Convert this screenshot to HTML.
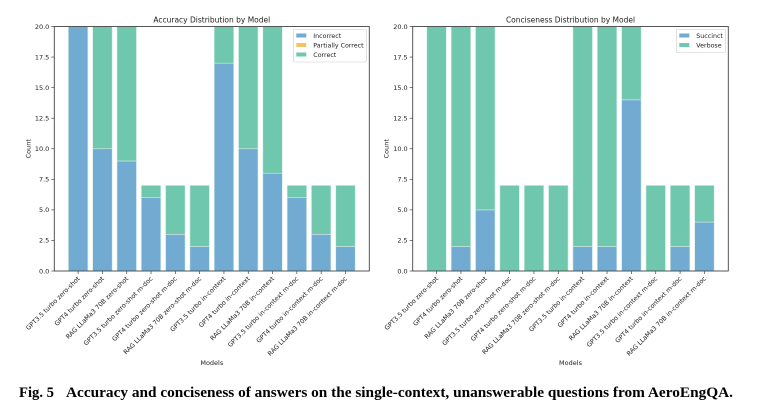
<!DOCTYPE html>
<html><head><meta charset="utf-8"><style>
body{margin:0;background:#fff;}
svg{display:block;font-family:"DejaVu Sans","Liberation Sans",sans-serif;}
</style></head><body>
<svg id="s" width="760" height="419" viewBox="0 0 760 419">
<text x="19" y="397" font-family="Liberation Serif, serif" font-weight="bold" font-size="15" textLength="35" lengthAdjust="spacingAndGlyphs">Fig. 5</text>
<text x="66" y="397" font-family="Liberation Serif, serif" font-weight="bold" font-size="15" textLength="667" lengthAdjust="spacingAndGlyphs">Accuracy and conciseness of answers on the single-context, unanswerable questions from AeroEngQA.</text>
</svg>
<script>
const categories=["GPT3.5 turbo zero-shot","GPT4 turbo zero-shot","RAG LLaMa3 70B zero-shot","GPT3.5 turbo zero-shot m-doc","GPT4 turbo zero-shot m-doc","RAG LLaMa3 70B zero-shot m-doc","GPT3.5 turbo in-context","GPT4 turbo in-context","RAG LLaMa3 70B in-context","GPT3.5 turbo in-context m-doc","GPT4 turbo in-context m-doc","RAG LLaMa3 70B in-context m-doc"];
const incorrect=[20,10,9,6,3,2,17,10,8,6,3,2];
const partial=[0,0,0,0,0,0,0,0,0,0,0,0];
const correct=[0,10,11,1,4,5,3,10,12,1,4,5];
const succinct=[0,2,5,0,0,0,2,2,14,0,2,4];
const verbose=[20,18,15,7,7,7,18,18,6,7,5,3];
const yTicks=[0,2.5,5,7.5,10,12.5,15,17.5,20];
const NS="http://www.w3.org/2000/svg";
const svg=document.getElementById('s');
function mk(tag,attrs,parent){const e=document.createElementNS(NS,tag);for(const k in attrs)e.setAttribute(k,attrs[k]);(parent||svg).appendChild(e);return e;}
const BLUE="#71abd1",GREEN="#6fc8ae",YEL="#f0c566";
function chart(x0,x1,title,series,colors,names,legendW,prefix){
  const y0=26.5,y1=271;
  const g=mk('g',{});
  
  
  const n=categories.length;
  const xs=i=>x0+(x1-x0)*(i+0.98)/(n+0.96);
  const ys=v=>y1-(y1-y0)*v/20;
  const bw=(x1-x0)*0.8/(n+0.96);
  for(let i=0;i<n;i++){
    let acc=0;
    series.forEach((s,k)=>{
      const v=s[i];
      if(v>0){
        const r=mk('rect',{x:xs(i)-bw/2,y:ys(acc+v),width:bw,height:ys(acc)-ys(acc+v),fill:colors[k],stroke:"#d5ece6","stroke-width":0.6},g);
        
        
      }
      acc+=v;
    });
  }
  const fr=mk('rect',{x:x0,y:y0,width:x1-x0,height:y1-y0,fill:"none",stroke:"#444","stroke-width":0.9},g);
  
  
  yTicks.forEach(t=>{
    mk('line',{x1:x0-3,x2:x0,y1:ys(t),y2:ys(t),stroke:"#444","stroke-width":0.7},g);
    const tx=mk('text',{x:x0-5,y:ys(t)+2.3,"font-size":6.5,"text-anchor":"end",fill:"#222"},g);
    tx.textContent=t.toFixed(1);
    
    
  });
  categories.forEach((c,i)=>{
    mk('line',{x1:xs(i),x2:xs(i),y1:y1,y2:y1+3,stroke:"#444","stroke-width":0.7},g);
    const tx=mk('text',{x:xs(i)+2,y:y1+8,"font-size":6.3,"text-anchor":"end",fill:"#222",transform:`rotate(-45 ${xs(i)+2} ${y1+8})`},g);
    tx.textContent=c;
    
    
  });
  const t=mk('text',{x:(x0+x1)/2,y:y0-4,"font-size":7.5,"text-anchor":"middle",fill:"#222"},g);
  t.textContent=title;
  
  
  const yl=mk('text',{x:x0-24,y:(y0+y1)/2,"font-size":6.5,"text-anchor":"middle",fill:"#222",transform:`rotate(-90 ${x0-24} ${(y0+y1)/2})`},g);
  yl.textContent="Count";
  
  
  const xl=mk('text',{x:(x0+x1)/2,y:365,"font-size":6.5,"text-anchor":"middle",fill:"#222"},g);
  xl.textContent="Models";
  
  
  const lg=mk('g',{},g);
  
  
  const lx=x1-3-legendW,ly=y0+3;
  mk('rect',{x:lx,y:ly,width:legendW,height:names.length*9.5+4,fill:"#fff",stroke:"#ccc","stroke-width":0.6,rx:1},lg);
  names.forEach((nm,k)=>{
    mk('rect',{x:lx+3,y:ly+4+k*9.5,width:10,height:4,fill:colors[k]},lg);
    const e=mk('text',{x:lx+20,y:ly+8.5+k*9.5,"font-size":6.3,fill:"#222"},lg);
    e.textContent=nm;
    
    
  });
}
chart(54.3,369.3,"Accuracy Distribution by Model",[incorrect,partial,correct],[BLUE,YEL,GREEN],["Incorrect","Partially Correct","Correct"],73,"accuracy");
chart(412.7,728.3,"Conciseness Distribution by Model",[succinct,verbose],[BLUE,GREEN],["Succinct","Verbose"],49,"conciseness");
</script>
</body></html>
